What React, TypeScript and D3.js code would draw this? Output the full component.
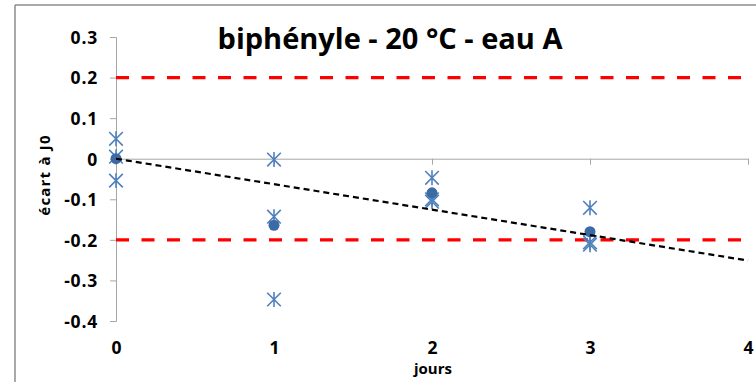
import React, { useEffect, useRef } from "react";
import * as d3 from "d3";

// days of measurement
const days = [0, 1, 2, 3];
// individual replicates (stars), one array per day
const replicates = [
  [0.049, 0.005, -0.054],
  [-0.002, -0.143, -0.347],
  [-0.047, -0.1, -0.106],
  [-0.121, -0.206, -0.212],
];
// mean of each day (dots)
const means = [0, -0.164, -0.084, -0.18];
// linear trend through the means
const trend = [
  { x: 0, y: 0 },
  { x: 4, y: -0.251 },
];
const limits = [0.2, -0.2];
const xTicks = [0, 1, 2, 3, 4];
const yTicks = [0.3, 0.2, 0.1, 0, -0.1, -0.2, -0.3, -0.4];

const FONT = "'Open Sans', Lato, sans-serif";

export default function App() {
  const ref = useRef<SVGSVGElement>(null);

  useEffect(() => {
    const svg = d3.select(ref.current);
    svg.selectAll("*").remove();

    const x = d3.scaleLinear().domain([0, 4]).range([116, 748]);
    const y = d3.scaleLinear().domain([-0.4, 0.3]).range([321, 37]);

    // chart frame (top and left edges visible)
    svg.append("line").attr("x1", 15).attr("x2", 756).attr("y1", 5).attr("y2", 5)
      .attr("stroke", "#8c8c8c").attr("stroke-width", 1.5);
    svg.append("line").attr("x1", 15).attr("x2", 15).attr("y1", 5).attr("y2", 382)
      .attr("stroke", "#8c8c8c").attr("stroke-width", 1.5);

    // y axis (plain hyphen for negatives, like the original)
    const yAxis = svg.append("g")
      .attr("transform", `translate(${x(0)},0)`)
      .call(d3.axisLeft(y).tickValues(yTicks).tickSize(6).tickFormat((d) => String(d)));
    yAxis.select(".domain").attr("stroke", "#a6a6a6");
    yAxis.selectAll(".tick line").attr("stroke", "#a6a6a6");
    yAxis.selectAll(".tick text").attr("x", -18).attr("dy", "0.36em")
      .attr("font-family", FONT).attr("font-size", 17.5).attr("font-weight", "bold")
      .attr("letter-spacing", 0.8).attr("fill", "#000");

    // x axis drawn at y = 0
    const xAxis = svg.append("g")
      .attr("transform", `translate(0,${y(0)})`)
      .call(d3.axisBottom(x).tickValues(xTicks).tickSize(6).tickFormat((d) => String(d)).tickSizeOuter(0));
    xAxis.select(".domain").attr("stroke", "#a6a6a6");
    xAxis.selectAll(".tick line").attr("stroke", "#a6a6a6");
    xAxis.selectAll(".tick text").attr("y", 0).attr("dy", 0)
      .attr("transform", `translate(0,${354 - y(0)})`)
      .attr("font-family", FONT).attr("font-size", 17.5).attr("font-weight", "bold").attr("fill", "#000");

    // limit lines
    svg.selectAll(".limit").data(limits).enter().append("line")
      .attr("class", "limit")
      .attr("x1", x(0)).attr("x2", 743)
      .attr("y1", (d) => y(d)).attr("y2", (d) => y(d))
      .attr("stroke", "#ff0000").attr("stroke-width", 3.2)
      .attr("stroke-dasharray", "13 12.5");

    // stars
    const pts = replicates.flatMap((vals, i) => vals.map((v) => ({ x: days[i], y: v })));
    const r = 6.8;
    const star = svg.selectAll(".star").data(pts).enter().append("g")
      .attr("class", "star")
      .attr("transform", (d) => `translate(${x(d.x)},${y(d.y)})`)
      .attr("stroke", "#4f81bd").attr("stroke-width", 1.6).attr("fill", "none");
    star.append("path").attr("d", `M${-r},${-r}L${r},${r}M${-r},${r}L${r},${-r}M0,${-r * 1.1}L0,${r * 1.1}`);

    // means
    svg.selectAll(".mean").data(means).enter().append("circle")
      .attr("class", "mean")
      .attr("cx", (d, i) => x(days[i])).attr("cy", (d) => y(d)).attr("r", 5.5)
      .attr("fill", "#3c6aa5");

    // trend line
    svg.append("path")
      .attr("d", d3.line<{ x: number; y: number }>().x((d) => x(d.x)).y((d) => y(d.y))(trend))
      .attr("fill", "none").attr("stroke", "#000").attr("stroke-width", 2.2)
      .attr("stroke-dasharray", "6 4");

    // title
    svg.append("text").attr("x", 390).attr("y", 49).attr("text-anchor", "middle")
      .attr("font-family", FONT).attr("font-size", 29).attr("font-weight", "bold")
      .text("biphényle - 20 °C - eau A");

    // axis titles
    svg.append("text").attr("x", 433).attr("y", 374).attr("text-anchor", "middle")
      .attr("font-family", FONT).attr("font-size", 15).attr("font-weight", "bold")
      .text("jours");
    svg.append("text").attr("transform", "translate(50,175) rotate(-90)").attr("text-anchor", "middle")
      .attr("font-family", FONT).attr("font-size", 15).attr("font-weight", "bold")
      .attr("letter-spacing", 1.2)
      .text("écart à J0");
  }, []);

  return (
    <svg ref={ref} width={756} height={382}
      style={{ position: "absolute", left: 0, top: 0, background: "#fff" }} />
  );
}
